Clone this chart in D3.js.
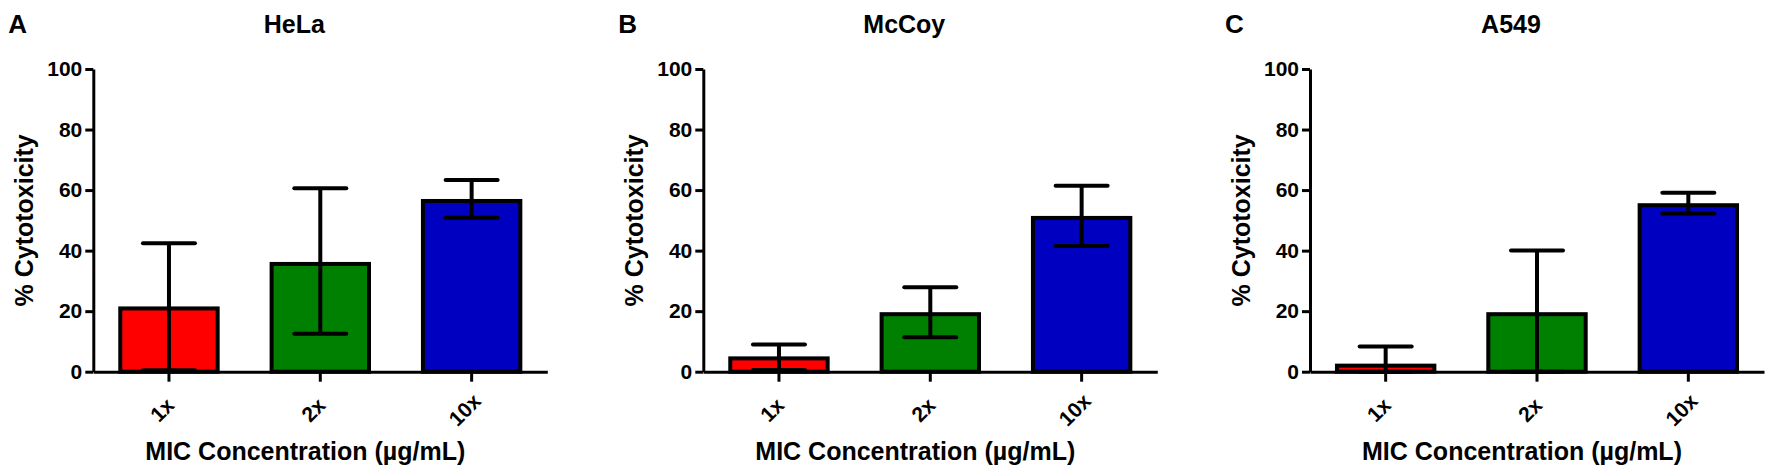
<!DOCTYPE html>
<html>
<head>
<meta charset="utf-8">
<script src="https://cdn.jsdelivr.net/npm/d3@7"></script>
<style>
  body { margin: 0; background: #fff; }
  text { font-family: "Liberation Sans", Arial, Helvetica, sans-serif; font-weight: bold; fill: #000; }
</style>
</head>
<body>
<div id="chart"></div>
<script>
// ---------------- data ----------------
var concentrations = ['1x', '2x', '10x'];
var bar_colors = ['#ff0000', '#008000', '#0000c0'];
var panel_letters = ['A', 'B', 'C'];
var cell_lines = ['HeLa', 'McCoy', 'A549'];
var y_ticks = [0, 20, 40, 60, 80, 100];

var hela_mean = [20.9, 35.6, 56.4];
var hela_upper = [42.4, 60.6, 63.3];
var hela_lower = [0.5, 12.5, 50.9];

var mccoy_mean = [4.4, 19.0, 50.8];
var mccoy_upper = [9.0, 27.9, 61.4];
var mccoy_lower = [0.6, 11.4, 41.5];

var a549_mean = [2.0, 19.0, 55.0];
var a549_upper = [8.3, 40.0, 59.1];
var a549_lower = [0, 0, 52.3];

var means = [hela_mean, mccoy_mean, a549_mean];
var uppers = [hela_upper, mccoy_upper, a549_upper];
var lowers = [hela_lower, mccoy_lower, a549_lower];

// ---------------- layout ----------------
var width = 1772;
var height = 472;
var axis_left = [93.3, 703.3, 1310];   // x position of each y axis
var plot_w = 454;
var y_top = 69;
var y_base = 371.7;
var cap_w = 52;

var svg = d3.select('#chart')
    .append('svg')
    .attr('width', width)
    .attr('height', height);

var y = d3.scaleLinear().domain([0, 100]).range([y_base, y_top]);

var x = d3.scaleBand()
    .domain(concentrations)
    .range([0, plot_w])
    .paddingInner(0.33)
    .paddingOuter(0.165);

for (var p = 0; p < cell_lines.length; p++) {
    var g = svg.append('g').attr('transform', 'translate(' + axis_left[p] + ',0)');

    var rows = concentrations.map(function(c, i) {
        return {c: c, mean: means[p][i], hi: uppers[p][i], lo: lowers[p][i], color: bar_colors[i]};
    });

    // bars
    g.selectAll('rect.bar')
        .data(rows)
        .enter()
        .append('rect')
        .attr('class', 'bar')
        .attr('x', function(d) { return x(d.c) + 2; })
        .attr('width', x.bandwidth() - 4)
        .attr('y', function(d) { return y(d.mean); })
        .attr('height', function(d) { return y(0) - y(d.mean); })
        .style('fill', function(d) { return d.color; })
        .style('stroke', '#000')
        .style('stroke-width', 4);

    // error bars
    var eb = g.selectAll('g.err')
        .data(rows)
        .enter()
        .append('g')
        .attr('class', 'err')
        .attr('transform', function(d) { return 'translate(' + (x(d.c) + x.bandwidth() / 2) + ',0)'; })
        .style('stroke', '#000')
        .style('stroke-width', 4);

    eb.append('line')
        .attr('x1', 0).attr('x2', 0)
        .attr('y1', function(d) { return y(d.lo); })
        .attr('y2', function(d) { return y(d.hi); });
    eb.append('line')
        .attr('x1', -cap_w / 2).attr('x2', cap_w / 2)
        .attr('y1', function(d) { return y(d.hi); })
        .attr('y2', function(d) { return y(d.hi); })
        .style('stroke-linecap', 'round');
    eb.append('line')
        .attr('x1', -cap_w / 2).attr('x2', cap_w / 2)
        .attr('y1', function(d) { return y(d.lo); })
        .attr('y2', function(d) { return y(d.lo); })
        .style('stroke-linecap', 'round');

    // y axis
    var yAxis = g.append('g')
        .call(d3.axisLeft(y).tickValues(y_ticks).tickSize(8).tickSizeOuter(0).tickPadding(3));
    yAxis.select('.domain').style('stroke-width', 3);
    yAxis.selectAll('.tick line').style('stroke-width', 3);
    yAxis.selectAll('.tick text').style('font-size', '21px');

    // x axis
    var xAxis = g.append('g')
        .attr('transform', 'translate(0,' + y_base + ')')
        .call(d3.axisBottom(x).tickSize(10).tickSizeOuter(0));
    xAxis.select('.domain').style('stroke-width', 3);
    xAxis.selectAll('.tick line').style('stroke-width', 3);
    xAxis.selectAll('.tick text')
        .style('font-size', '21px')
        .attr('text-anchor', 'middle')
        .attr('dominant-baseline', 'central')
        .attr('y', 0)
        .attr('dy', null)
        .attr('transform', 'translate(-7,38) rotate(-45)');

    // panel letter and title
    g.append('text')
        .attr('x', -85)
        .attr('y', 33)
        .style('font-size', '26px')
        .text(panel_letters[p]);

    g.append('text')
        .attr('x', 201)
        .attr('y', 33)
        .attr('text-anchor', 'middle')
        .style('font-size', '25px')
        .text(cell_lines[p]);

    // axis titles
    g.append('text')
        .attr('transform', 'translate(-60,' + ((y_top + y_base) / 2) + ') rotate(-90)')
        .attr('text-anchor', 'middle')
        .style('font-size', '25px')
        .text('% Cytotoxicity');

    g.append('text')
        .attr('x', 212)
        .attr('y', 460)
        .attr('text-anchor', 'middle')
        .style('font-size', '25px')
        .text('MIC Concentration (µg/mL)');
}
</script>
</body>
</html>
